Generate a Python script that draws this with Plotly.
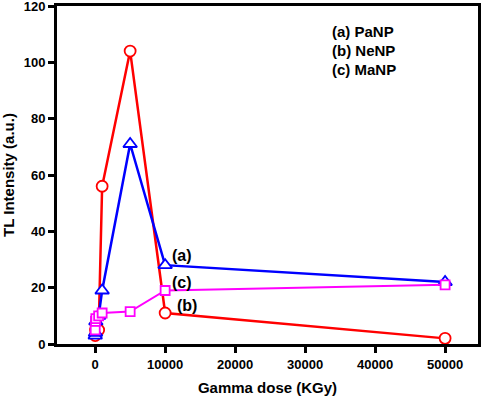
import plotly.graph_objects as go

dose = [10, 50, 100, 500, 1000, 5000, 10000, 50000]
panp = [3, 4, 8, 10, 19, 71, 28, 22]
nenp = [3, 5, 7, 5, 56, 104, 11, 2]
manp = [5, 8, 9, 10, 11, 11.5, 19, 21]

x_ticks = [0, 10000, 20000, 30000, 40000, 50000]
y_ticks = [0, 20, 40, 60, 80, 100, 120]

font = "Liberation Sans, Arial, sans-serif"

fig = go.Figure()
fig.add_trace(go.Scatter(x=dose, y=nenp, mode="lines+markers", name="NeNP",
                         line=dict(color="#ff0000", width=2.5),
                         marker=dict(symbol="circle", size=11, color="white",
                                     line=dict(color="#ff0000", width=1.8))))
fig.add_trace(go.Scatter(x=dose, y=panp, mode="lines+markers", name="PaNP",
                         line=dict(color="#0000ff", width=2.5),
                         marker=dict(symbol="triangle-up", size=12, color="white",
                                     line=dict(color="#0000ff", width=1.8))))
fig.add_trace(go.Scatter(x=dose, y=manp, mode="lines+markers", name="MaNP",
                         line=dict(color="#ff00ff", width=2),
                         marker=dict(symbol="square", size=9, color="white",
                                     line=dict(color="#ff00ff", width=1.8))))

annots = [
    dict(x=12400, y=31.5, text="(a)"),
    dict(x=12400, y=22, text="(c)"),
    dict(x=13100, y=13.5, text="(b)"),
]
for a in annots:
    fig.add_annotation(x=a["x"], y=a["y"], text=a["text"], showarrow=False,
                       xanchor="center", yanchor="middle",
                       font=dict(family=font, size=16, color="black", weight="bold"))

legend_lines = ["(a) PaNP", "(b) NeNP", "(c) MaNP"]
for i, t in enumerate(legend_lines):
    fig.add_annotation(x=0.648, y=0.925 - i * 0.057, xref="paper", yref="paper",
                       text=t, showarrow=False, xanchor="left", yanchor="middle",
                       font=dict(family=font, size=15, color="black", weight="bold"))

fig.update_layout(
    width=484, height=397,
    margin=dict(l=57, r=6, t=6, b=53, autoexpand=False),
    paper_bgcolor="white", plot_bgcolor="white",
    showlegend=False,
    font=dict(family=font, color="black"),
)
fig.update_xaxes(range=[-5450, 54700], tickvals=x_ticks,
                 ticktext=[str(v) for v in x_ticks], automargin=False,
                 ticklabeloverflow="allow",
                 showgrid=False, zeroline=False, showline=True, linecolor="black",
                 linewidth=3, mirror=True, ticks="outside", ticklen=6, tickwidth=3,
                 tickcolor="black",
                 tickfont=dict(family=font, size=13, weight="bold"),
                 title=dict(text="Gamma dose (KGy)", standoff=12,
                            font=dict(family=font, size=15, weight="bold")))
fig.update_yaxes(range=[0, 120], tickvals=y_ticks, automargin=False,
                 ticklabeloverflow="allow",
                 showgrid=False, zeroline=False, showline=True, linecolor="black",
                 linewidth=3, mirror=True, ticks="outside", ticklen=6, tickwidth=3,
                 tickcolor="black",
                 tickfont=dict(family=font, size=13, weight="bold"),
                 title=dict(text="TL Intensity (a.u.)", standoff=8,
                            font=dict(family=font, size=15, weight="bold")))

fig.write_html("out.html", config={"displayModeBar": False},
               post_script="document.body.style.margin='0';document.body.style.overflow='hidden';")
